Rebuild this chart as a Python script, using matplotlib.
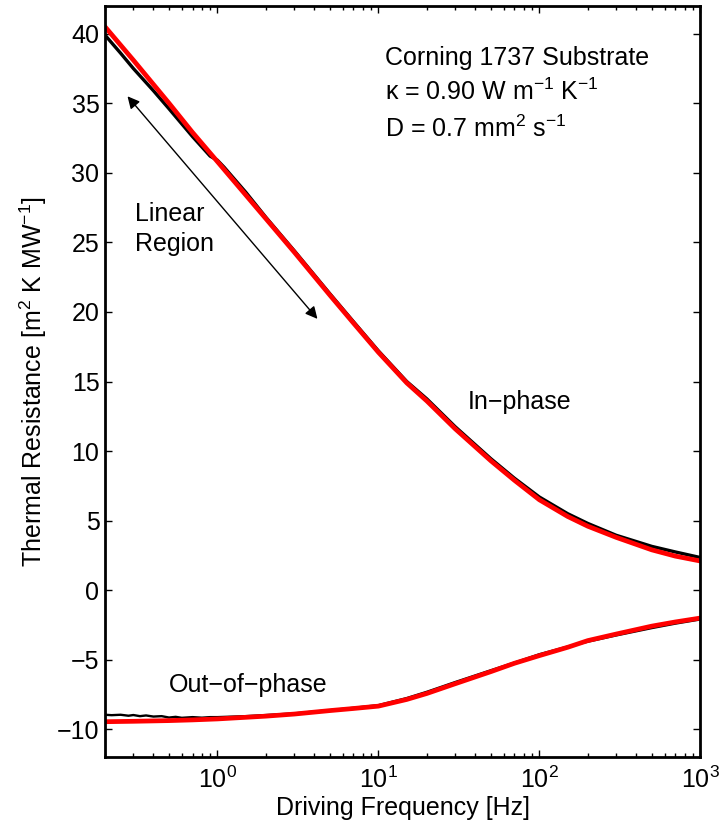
import matplotlib
matplotlib.use("Agg")
import matplotlib.pyplot as plt

plt.rcParams['font.family'] = ['Liberation Sans', 'DejaVu Sans']
plt.rcParams['mathtext.fontset'] = 'custom'
plt.rcParams['mathtext.rm'] = 'Liberation Sans'
plt.rcParams['mathtext.it'] = 'Liberation Sans:italic'
plt.rcParams['mathtext.bf'] = 'Liberation Sans:bold'

# measured in-phase (black) and model (red)
freq_in_meas = [0.2, 0.25, 0.3, 0.4, 0.5, 0.7, 0.9, 1.0, 1.1, 1.5, 2, 3, 5, 7, 10, 15, 20, 30, 50, 70, 100, 150, 200, 300, 500, 700, 1000]
inphase_meas = [39.9, 38.6, 37.5, 35.9, 34.6, 32.6, 31.2, 30.9, 30.4, 28.6, 26.8, 24.4, 21.3, 19.3, 17.2, 15.0, 13.75, 11.75, 9.45, 8.05, 6.7, 5.5, 4.8, 3.95, 3.15, 2.75, 2.35]
freq_in_model = [0.2, 0.3, 0.5, 0.7, 1, 2, 3, 5, 7, 10, 15, 20, 30, 50, 70, 100, 150, 200, 300, 500, 700, 1000]
inphase_model = [40.5, 38.1, 35.0, 32.9, 30.8, 26.7, 24.3, 21.2, 19.2, 17.1, 14.9, 13.6, 11.6, 9.3, 7.9, 6.5, 5.3, 4.6, 3.8, 2.9, 2.45, 2.1]

# measured out-of-phase (black) and model (red)
freq_out_meas = [0.2, 0.22, 0.25, 0.28, 0.3, 0.33, 0.36, 0.4, 0.45, 0.5, 0.55, 0.6, 0.7, 0.8, 0.9, 1, 1.5, 2, 3, 5, 7, 10, 15, 20, 30, 50, 70, 100, 150, 200, 300, 500, 700, 1000]
outphase_meas = [-8.95, -8.98, -8.95, -9.02, -8.97, -9.05, -9.0, -9.08, -9.05, -9.15, -9.1, -9.17, -9.12, -9.16, -9.12, -9.12, -9.05, -8.97, -8.85, -8.62, -8.45, -8.26, -7.75, -7.3, -6.6, -5.75, -5.2, -4.6, -4.05, -3.7, -3.25, -2.72, -2.4, -2.1]
freq_out_model = [0.2, 0.3, 0.5, 0.7, 1, 2, 3, 5, 7, 10, 15, 20, 30, 50, 70, 100, 150, 200, 300, 500, 700, 1000]
outphase_model = [-9.45, -9.42, -9.37, -9.32, -9.25, -9.05, -8.9, -8.65, -8.5, -8.33, -7.85, -7.42, -6.72, -5.85, -5.25, -4.7, -4.1, -3.62, -3.15, -2.58, -2.28, -2.0]

fig = plt.figure(figsize=(7.19, 8.33), dpi=100)
ax = fig.add_axes([0.146, 0.091, 0.828, 0.902])

ax.plot(freq_in_meas, inphase_meas, color='black', lw=2.4)
ax.plot(freq_out_meas, outphase_meas, color='black', lw=1.7)
ax.plot(freq_in_model, inphase_model, color='red', lw=3.4)
ax.plot(freq_out_model, outphase_model, color='red', lw=3.4)

ax.set_xscale('log')
ax.set_xlim(0.2, 1000)
ax.set_ylim(-12, 42)
ax.set_yticks(range(-10, 41, 5))

ax.tick_params(which='both', direction='in', top=True, right=True, labelsize=18, width=1.0)
ax.tick_params(which='major', length=5)
ax.tick_params(which='minor', length=3)
ax.tick_params(axis='x', pad=7)
ax.tick_params(axis='y', pad=4)
for s in ax.spines.values():
    s.set_linewidth(2.0)

ax.set_xlabel('Driving Frequency [Hz]', fontsize=18, labelpad=2)
ax.set_ylabel('Thermal Resistance [m$^2$ K MW$^{-1}$]', fontsize=18, labelpad=6)

ax.text(0.471, 0.921, 'Corning 1737 Substrate', transform=ax.transAxes, fontsize=18, va='baseline')
ax.text(0.471, 0.875, '\u03ba = 0.90 W m$^{-1}$ K$^{-1}$', transform=ax.transAxes, fontsize=18, va='baseline')
ax.text(0.471, 0.826, 'D = 0.7 mm$^2$ s$^{-1}$', transform=ax.transAxes, fontsize=18, va='baseline')

ax.text(0.050, 0.714, 'Linear', transform=ax.transAxes, fontsize=18, va='baseline')
ax.text(0.050, 0.674, 'Region', transform=ax.transAxes, fontsize=18, va='baseline')
ax.text(0.610, 0.463, 'In\u2212phase', transform=ax.transAxes, fontsize=18, va='baseline')
ax.text(0.108, 0.0866, 'Out\u2212of\u2212phase', transform=ax.transAxes, fontsize=18, va='baseline')

ax.annotate('', xy=(0.276, 35.5), xytext=(4.18, 19.5),
            arrowprops=dict(arrowstyle='<|-|>', color='black', lw=1.0, mutation_scale=18, shrinkA=0, shrinkB=0))

fig.savefig('out.png', dpi=100)
